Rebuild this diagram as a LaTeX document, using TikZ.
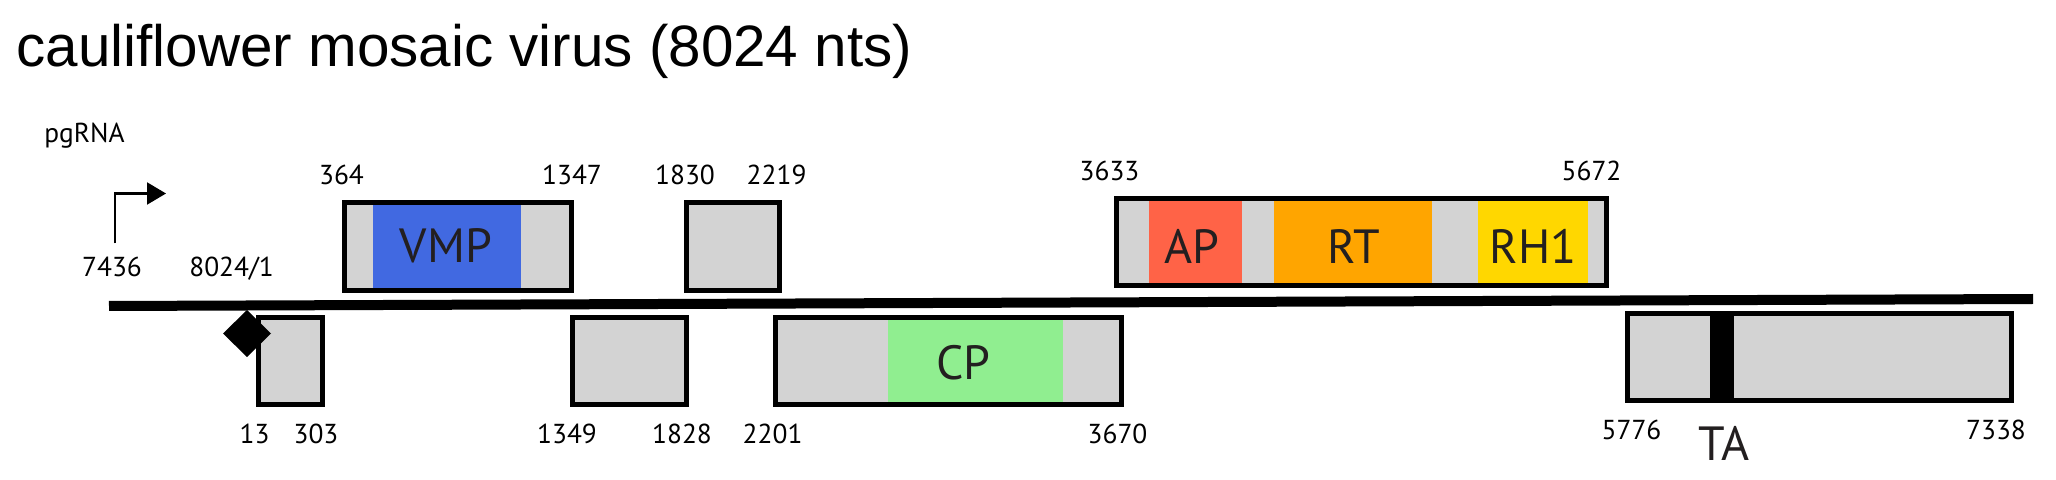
\documentclass[tikz,border=0pt]{standalone}
\usepackage{fontspec}
\setmainfont{Liberation Sans}
\newfontfamily\labfont{PT Sans}
\usetikzlibrary{arrows.meta}
\definecolor{boxgray}{RGB}{211,211,211}
\definecolor{vmpblue}{RGB}{65,105,225}
\definecolor{aptomato}{RGB}{255,99,71}
\definecolor{rtorange}{RGB}{255,165,0}
\definecolor{rhgold}{RGB}{255,215,0}
\definecolor{cpgreen}{RGB}{144,238,144}
\definecolor{txtdark}{RGB}{35,31,32}
\begin{document}
\begin{tikzpicture}[x=0.5pt,y=-0.5pt,
  orfbox/.style={draw=black, line width=2.5pt, fill=boxgray},
  numlbl/.style={font=\labfont\fontsize{13.7pt}{15pt}\selectfont, anchor=base, inner sep=0pt},
  domlbl/.style={font=\labfont\fontsize{24pt}{28pt}\selectfont, text=txtdark, anchor=base, inner sep=0pt},
]
\useasboundingbox (0,0) rectangle (2056,480);

% title
\node[anchor=base west, inner sep=0pt, font=\fontsize{29.2pt}{34pt}\selectfont] (title) at (16,67) {cauliflower mosaic virus (8024 nts)};

% genome line
\coordinate (gl) at (109,306);
\coordinate (gr) at (2033,299);
\draw[line width=5pt] (gl) -- (gr);

% ORF VII (13-303)
\draw[orfbox] (258.3,317.5) rectangle (322,404.2);
\fill (247,310) -- (271,333.5) -- (247,357) -- (223,333.5) -- cycle;

% ORF I (VMP)
\draw[orfbox] (344,202.5) rectangle (571.1,290.2);
\fill[vmpblue] (373,205) rectangle (521.4,287.7);

% ORF II
\draw[orfbox] (572.5,317.5) rectangle (686.3,404.2);

% ORF III
\draw[orfbox] (686.1,202.5) rectangle (779.3,290.2);

% ORF IV (CP)
\draw[orfbox] (775.4,317.5) rectangle (1121.2,404.5);
\fill[cpgreen] (888,320) rectangle (1062.6,402);

% ORF V (pol)
\draw[orfbox] (1116.3,198.5) rectangle (1606.5,285.8);
\fill[aptomato] (1149,201) rectangle (1242,283.3);
\fill[rtorange] (1274,201) rectangle (1431.7,283.3);
\fill[rhgold] (1477.8,201) rectangle (1588,283.3);

% ORF VI (TA)
\draw[orfbox] (1627.5,313.2) rectangle (2011.5,400.2);
\fill[black] (1709.8,315.7) rectangle (1734.2,397.7);

% promoter arrow
\coordinate (tss) at (114.7,243.3);
\coordinate (tsshead) at (166,193.5);
\draw[line width=1.1pt, -{Triangle[length=9.5pt,width=11pt]}] (tss) |- (tsshead);

% labels
\node[numlbl, anchor=base west] (pg) at (44,143) {pgRNA};
\node[numlbl] (n7436) at (112,276.7) {7436};
\node[numlbl] (n8024) at (231.5,276.7) {8024/1};
\node[numlbl] (n364) at (341.5,185) {364};
\node[numlbl] (n1347) at (572,185) {1347};
\node[numlbl] (n1830) at (685,185) {1830};
\node[numlbl] (n2219) at (776.6,185) {2219};
\node[numlbl] (n3633) at (1109.5,181) {3633};
\node[numlbl] (n5672) at (1591.5,181) {5672};
\node[numlbl] (n13) at (254.5,443.3) {13};
\node[numlbl] (n303) at (316,443.3) {303};
\node[numlbl] (n1349) at (567,443.3) {1349};
\node[numlbl] (n1828) at (682,443.3) {1828};
\node[numlbl] (n2201) at (772.6,443.3) {2201};
\node[numlbl] (n3670) at (1117.5,443.3) {3670};
\node[numlbl] (n5776) at (1631.5,439.3) {5776};
\node[numlbl] (n7338) at (1996,439.3) {7338};

\node[domlbl] (vmp) at (446,263) {VMP};
\node[domlbl] (ap) at (1191.5,263.3) {AP};
\node[domlbl] (rt) at (1354,263.3) {RT};
\node[domlbl] (rh) at (1533,263.3) {RH1};
\node[domlbl] (cp) at (963.5,379.3) {CP};
\node[domlbl] (ta) at (1724,460) {TA};
\end{tikzpicture}
\end{document}
